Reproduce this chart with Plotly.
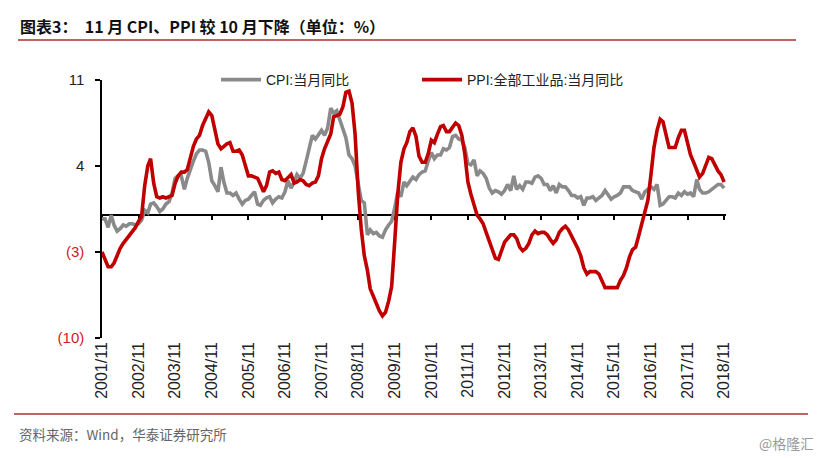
import plotly.graph_objects as go
import pandas as pd

# Monthly data, 2001/11 .. 2018/11
start_month = "2001-11-01"
end_month = "2018-11-01"

cpi = [
    -0.3, -0.3,
    -1.0, 0.0, -0.8, -1.3, -1.1, -0.8, -0.9, -0.7, -0.7, -0.8, -0.7, -0.4,
    0.4, 0.2, 0.9, 1.0, 0.7, 0.3, 0.5, 0.9, 1.1, 1.8, 3.0, 3.2,
    3.2, 2.1, 3.0, 3.8, 4.4, 5.0, 5.3, 5.3, 5.2, 4.3, 2.8, 2.4,
    1.9, 3.9, 2.7, 1.8, 1.8, 1.6, 1.8, 1.3, 0.9, 1.2, 1.3, 1.6,
    1.9, 0.9, 0.8, 1.2, 1.4, 1.5, 1.0, 1.3, 1.5, 1.4, 1.9, 2.8,
    2.2, 2.7, 3.3, 3.0, 3.4, 4.4, 5.6, 6.5, 6.2, 6.5, 6.9, 6.5,
    7.1, 8.7, 8.3, 8.5, 7.7, 7.1, 6.3, 4.9, 4.6, 4.0, 2.4, 1.2,
    1.0, -1.6, -1.2, -1.5, -1.4, -1.7, -1.8, -1.2, -0.8, -0.5, 0.6, 1.9,
    1.5, 2.7, 2.4, 2.8, 3.1, 2.9, 3.3, 3.5, 3.6, 4.4, 5.1, 4.6,
    4.9, 4.9, 5.4, 5.3, 5.5, 6.4, 6.5, 6.2, 6.1, 5.5, 4.2, 4.1,
    4.5, 3.2, 3.6, 3.4, 3.0, 2.2, 1.8, 2.0, 1.9, 1.7, 2.0, 2.5,
    2.0, 3.2, 2.1, 2.4, 2.1, 2.7, 2.7, 2.6, 3.1, 3.2, 3.0, 2.5,
    2.5, 2.0, 2.4, 1.8, 2.5, 2.3, 2.3, 2.0, 1.6, 1.6, 1.4, 1.5,
    0.8, 1.4, 1.4, 1.5, 1.2, 1.4, 1.6, 2.0, 1.6, 1.3, 1.5, 1.6,
    1.8, 2.3, 2.3, 2.3, 2.0, 1.9, 1.8, 1.3, 1.9, 2.1, 2.3, 2.1,
    2.5, 0.8, 0.9, 1.2, 1.5, 1.5, 1.4, 1.8, 1.6, 1.9, 1.7, 1.8,
    1.5, 2.9, 2.1, 1.8, 1.8, 1.9, 2.1, 2.3, 2.5, 2.5, 2.2,
]

ppi = [
    -3.0, -3.7,
    -4.2, -4.2, -3.9, -3.3, -2.7, -2.3, -2.0, -1.6, -1.4, -1.0, -0.5, -0.1,
    2.4, 4.0, 4.6, 2.6, 1.5, 1.4, 1.5, 1.4, 1.5, 1.6, 2.6, 3.2,
    3.5, 3.5, 3.7, 4.8, 5.6, 6.2, 6.5, 7.3, 7.9, 8.4, 8.1, 7.1,
    5.8, 5.4, 5.6, 5.8, 5.9, 5.2, 5.2, 5.3, 4.9, 4.0, 3.2, 3.2,
    3.1, 3.0, 2.5, 1.9, 2.4, 3.5, 3.6, 3.4, 3.5, 2.9, 2.8, 3.1,
    3.3, 2.6, 2.7, 2.9, 2.8, 2.5, 2.4, 2.6, 2.7, 3.2, 4.6, 5.4,
    6.1, 6.6, 8.0, 8.1, 8.2, 8.8, 10.0, 10.1, 9.1, 6.6, 2.0, -1.1,
    -3.3, -4.5, -6.0, -6.6, -7.2, -7.8, -8.2, -7.9, -7.0, -5.8, -2.1, 1.7,
    4.3, 5.4, 5.9, 6.8, 7.1, 6.4, 4.8, 4.3, 4.3, 5.0, 6.1, 5.9,
    6.6, 7.2, 7.3, 6.8, 6.8, 7.1, 7.5, 7.3, 6.5, 5.0, 2.7, 1.7,
    0.7, 0.0, -0.3, -0.7, -1.4, -2.1, -2.9, -3.5, -3.6, -2.8, -2.2, -1.9,
    -1.6, -1.6, -1.9, -2.6, -2.9, -2.7, -2.3, -1.6, -1.3, -1.5, -1.4, -1.4,
    -1.6, -2.0, -2.3, -2.0, -1.4, -1.1, -0.9, -1.2, -1.8, -2.2, -2.7, -3.3,
    -4.3, -4.8, -4.6, -4.6, -4.6, -4.8, -5.4, -5.9, -5.9, -5.9, -5.9, -5.9,
    -5.3, -4.9, -4.3, -3.4, -2.8, -2.6, -1.7, -0.8, 0.1, 1.2, 3.3, 5.5,
    6.9, 7.8, 7.6, 6.4, 5.5, 5.5, 5.5, 6.3, 6.9, 6.9, 5.8, 4.9,
    4.3, 3.7, 3.1, 3.4, 4.1, 4.7, 4.6, 4.1, 3.6, 3.3, 2.7,
]

tick_years = list(range(2001, 2019))
tick_dates = [f"{y}-11-01" for y in tick_years]
tick_labels = [f"{y}/11" for y in tick_years]

y_tickvals = [11, 4, -3, -10]
y_ticklabels = ["11", "4",
                "<span style='color:#d01c24'>(3)</span>",
                "<span style='color:#d01c24'>(10)</span>"]

cpi_name = "CPI:当月同比"
ppi_name = "PPI:全部工业品:当月同比"
title_text = "<b>图表3：  11 月 CPI、PPI 较 10 月下降（单位：%）</b>"
source_text = "资料来源：Wind，华泰证券研究所"
watermark_text = "@格隆汇"

months = pd.date_range(start_month, end_month, freq="MS")

FONT = "Liberation Sans, Arial, Noto Sans CJK SC, sans-serif"
CJK = "Noto Sans CJK SC, Liberation Sans, sans-serif"

# The page body adds an 8px margin; lay out in page pixels and compensate.
OFF = 8
W, H = 821 - OFF, 458 - OFF
L, R, T, B = 102 - OFF, 95, 80 - OFF, 120
pw = W - L - R
ph = H - T - B

def px_x(x):
    return (x - OFF - L) / pw

def px_y(y):
    return (H - B - (y - OFF)) / ph

fig = go.Figure()
fig.add_trace(go.Scatter(x=months, y=cpi, name=cpi_name, mode="lines",
                         line=dict(color="#8a8a8a", width=3.6),
                         xaxis="x", yaxis="y", legend="legend"))
fig.add_trace(go.Scatter(x=months, y=ppi, name=ppi_name, mode="lines",
                         line=dict(color="#c00000", width=3.6),
                         xaxis="x2", yaxis="y", legend="legend2"))

legend_common = dict(orientation="h", y=1.0, xanchor="left",
                     yanchor="middle", bgcolor="rgba(0,0,0,0)",
                     font=dict(family=FONT, size=14, color="#222222"),
                     itemwidth=40)

fig.update_layout(
    width=W, height=H, autosize=False,
    margin=dict(l=L, r=R, t=T, b=B),
    paper_bgcolor="white", plot_bgcolor="white",
    font=dict(family=FONT, size=14, color="#222222"),
    showlegend=True,
    legend=dict(x=px_x(216), **legend_common),
    legend2=dict(x=px_x(417), **legend_common),
    xaxis=dict(type="date", range=["2001-11-01", "2018-11-20"],
               tickvals=tick_dates, ticktext=tick_labels, tickangle=-90,
               showline=False, ticks="", showgrid=False, zeroline=False,
               tickfont=dict(family=FONT, size=16, color="#222222")),
    xaxis2=dict(type="date", overlaying="x", matches="x", anchor="free",
                position=10 / 21, side="bottom",
                tickvals=tick_dates, showticklabels=False,
                showline=True, linecolor="#000000", linewidth=1.5,
                ticks="outside", ticklen=4, tickwidth=1.5, tickcolor="#000000",
                showgrid=False, zeroline=False, layer="below traces"),
    yaxis=dict(range=[-10, 11], tickvals=y_tickvals, ticktext=y_ticklabels,
               showline=True, linecolor="#000000", linewidth=1.5,
               ticks="outside", ticklen=5, tickwidth=1.5, tickcolor="#000000",
               showgrid=False, zeroline=False, ticklabelstandoff=8,
               tickfont=dict(family=FONT, size=15, color="#222222")),
    title=dict(text=title_text, xref="container", yref="container",
               x=(20 - OFF) / W, y=1 - (27 - OFF) / H, xanchor="left",
               yanchor="middle",
               font=dict(family=CJK, size=16, color="#111111")),
)

line_color = "#a8322a"
fig.add_shape(type="line", xref="paper", yref="paper",
              x0=px_x(18), x1=px_x(796), y0=px_y(40), y1=px_y(40),
              line=dict(color=line_color, width=1.5))
fig.add_shape(type="line", xref="paper", yref="paper",
              x0=px_x(14), x1=px_x(808), y0=px_y(414), y1=px_y(414),
              line=dict(color=line_color, width=1.5))

fig.add_annotation(text=source_text, xref="paper", yref="paper",
                   x=px_x(17), y=px_y(434), xanchor="left", yanchor="middle",
                   showarrow=False,
                   font=dict(family=CJK, size=13.5, color="#666666"))
fig.add_annotation(text=watermark_text, xref="paper", yref="paper",
                   x=px_x(816), y=px_y(443), xanchor="right", yanchor="middle",
                   showarrow=False,
                   font=dict(family=CJK, size=14, color="#9a9a9a"))

fig.write_html("out.html")
